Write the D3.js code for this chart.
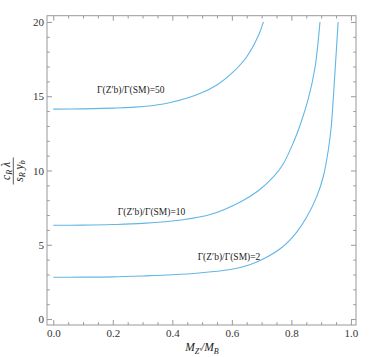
<!DOCTYPE html>
<html lang="en">
<head>
<meta charset="utf-8">
<title>Coupling vs mass ratio</title>
<script src="https://d3js.org/d3.v7.min.js"></script>
<style>
  body { margin: 0; background: #fff; }
  text { font-family: "Liberation Serif", "DejaVu Serif", serif; }
  .axis path { stroke: #999; }
  .axis line { stroke: #999; }
  .axis text { fill: #333; font-size: 11px; }
</style>
</head>
<body>
<script>
// values
var xs50 = [0, 0.1, 0.2, 0.26, 0.37, 0.48, 0.55, 0.6, 0.65, 0.69, 0.706];
var ys50 = [14.13, 14.15, 14.2, 14.25, 14.48, 15.08, 15.76, 16.55, 17.66, 19.12, 20];

var xs10 = [0, 0.1, 0.2, 0.3, 0.43, 0.53, 0.63, 0.69, 0.74, 0.77, 0.806, 0.83, 0.857, 0.879, 0.896];
var ys10 = [6.31, 6.32, 6.36, 6.44, 6.67, 7.05, 7.9, 8.65, 9.58, 10.35, 11.85, 13.1, 14.85, 16.9, 20];

var xs2 = [0, 0.1, 0.2, 0.3, 0.4, 0.49, 0.6, 0.66, 0.71, 0.77, 0.818, 0.851, 0.885, 0.907, 0.924, 0.934, 0.945, 0.957];
var ys2 = [2.81, 2.82, 2.84, 2.9, 2.98, 3.1, 3.35, 3.65, 4.09, 4.85, 5.85, 6.85, 8.24, 9.58, 11.38, 13.0, 16.2, 20];

var curveNames = ["Γ(Z′b)/Γ(SM)=50", "Γ(Z′b)/Γ(SM)=10", "Γ(Z′b)/Γ(SM)=2"];
// where each label sits, in data units
var labelX = [0.147, 0.217, 0.485];
var labelY = [15.25, 7.0, 4.0];

var xTicks = [0, 0.2, 0.4, 0.6, 0.8, 1.0];
var yTicks = [0, 5, 10, 15, 20];

var W = 374, H = 357;
var pL = 47, pR = 356, pT = 15.7, pB = 325;

var svg = d3.select("body").append("svg").attr("width", W).attr("height", H);

var x = d3.scaleLinear().domain([-0.021, 1.017]).range([pL, pR]);
var y = d3.scaleLinear().domain([-0.4, 20.42]).range([pB, pT]);

var xMinor = d3.range(0, 1.0001, 0.05).filter(function(v) { return Math.abs(v * 5 - Math.round(v * 5)) > 1e-6; });
var yMinor = d3.range(0, 20.5, 1).filter(function(v) { return v % 5 !== 0; });

// frame
svg.append("rect")
   .attr("x", pL).attr("y", pT)
   .attr("width", pR - pL).attr("height", pB - pT)
   .attr("fill", "none").attr("stroke", "#999");

function addAxis(gen, tx, ty, vals, size, fmt, pad) {
  svg.append("g").attr("class", "axis")
     .attr("transform", "translate(" + tx + "," + ty + ")")
     .call(gen.tickValues(vals).tickSize(size).tickPadding(pad).tickFormat(fmt))
     .call(function(g) { g.select(".domain").remove(); });
}

var none = function() { return ""; };
addAxis(d3.axisBottom(x), 0, pB, xTicks, -5, d3.format(".1f"), 4);
addAxis(d3.axisBottom(x), 0, pB, xMinor, -2.8, none, 3);
addAxis(d3.axisTop(x), 0, pT, xTicks, -5, none, 3);
addAxis(d3.axisTop(x), 0, pT, xMinor, -2.8, none, 3);
addAxis(d3.axisLeft(y), pL, 0, yTicks, -5, d3.format("d"), 3);
addAxis(d3.axisLeft(y), pL, 0, yMinor, -2.8, none, 3);
addAxis(d3.axisRight(y), pR, 0, yTicks, -5, none, 3);
addAxis(d3.axisRight(y), pR, 0, yMinor, -2.8, none, 3);

// curves
var line = d3.line()
  .x(function(d) { return x(d[0]); })
  .y(function(d) { return y(d[1]); })
  .curve(d3.curveCatmullRom.alpha(0.5));

[[xs50, ys50], [xs10, ys10], [xs2, ys2]].forEach(function(s, i) {
  var pts = s[0].map(function(v, j) { return [v, s[1][j]]; });
  svg.append("path")
     .datum(pts)
     .attr("d", line)
     .attr("fill", "none")
     .attr("stroke", "#62b6e6")
     .attr("stroke-width", 1.1);

  svg.append("text")
     .attr("x", x(labelX[i])).attr("y", y(labelY[i]))
     .attr("font-size", 9.5)
     .attr("fill", "#222")
     .text(curveNames[i]);
});

// x axis title
var xt = svg.append("text")
   .attr("x", 202).attr("y", 351)
   .attr("text-anchor", "middle")
   .attr("font-size", 11.5)
   .attr("font-style", "italic")
   .attr("fill", "#222");
xt.append("tspan").text("M");
xt.append("tspan").attr("font-size", 8).attr("dy", 2.5).text("Z′");
xt.append("tspan").attr("dy", -2.5).text("/M");
xt.append("tspan").attr("font-size", 8).attr("dy", 2.5).text("B");

// y axis title: fraction c_R λ / s_R y_b, rotated
var yl = svg.append("g").attr("transform", "translate(13.3,171) rotate(-90)");
yl.append("line").attr("x1", -13.5).attr("x2", 13.5).attr("y1", 0).attr("y2", 0)
  .attr("stroke", "#333").attr("stroke-width", 0.8);

var num = yl.append("text").attr("x", 0).attr("y", -3).attr("text-anchor", "middle")
  .attr("font-size", 11.5).attr("font-style", "italic").attr("fill", "#222");
num.append("tspan").text("c");
num.append("tspan").attr("font-size", 8).attr("dy", 2).text("R");
num.append("tspan").attr("dy", -2).text(" λ");

var den = yl.append("text").attr("x", 0).attr("y", 9.5).attr("text-anchor", "middle")
  .attr("font-size", 11.5).attr("font-style", "italic").attr("fill", "#222");
den.append("tspan").text("s");
den.append("tspan").attr("font-size", 8).attr("dy", 2).text("R");
den.append("tspan").attr("dy", -2).text("  y");
den.append("tspan").attr("font-size", 8).attr("dy", 2).text("b");
</script>
</body>
</html>
